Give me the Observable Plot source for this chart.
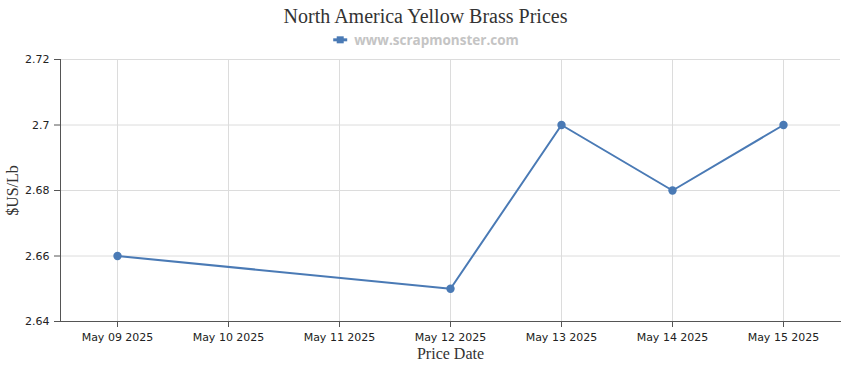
<!DOCTYPE html>
<html>
<head>
<meta charset="utf-8">
<script src="https://cdn.jsdelivr.net/npm/d3@7"></script>
<script src="https://cdn.jsdelivr.net/npm/@observablehq/plot@0.6"></script>
<style>
  html, body { margin: 0; padding: 0; background: #fff; }
  #chart svg { display: block; }
</style>
</head>
<body>
<div id="chart"></div>
<script>
const dates = ["May 09 2025", "May 10 2025", "May 11 2025", "May 12 2025", "May 13 2025", "May 14 2025", "May 15 2025"];
const priceDates = ["May 09 2025", "May 12 2025", "May 13 2025", "May 14 2025", "May 15 2025"];
const prices = [2.66, 2.65, 2.70, 2.68, 2.70];
const yTicks = [2.64, 2.66, 2.68, 2.70, 2.72];
const titleText = "North America Yellow Brass Prices";
const legendText = "www.scrapmonster.com";

const data = priceDates.map((d, i) => ({date: d, price: prices[i]}));
const lineColor = "#4a7ab5";

const chart = Plot.plot({
  width: 850,
  height: 370,
  marginLeft: 60,
  marginRight: 10,
  marginTop: 59,
  marginBottom: 49,
  style: {fontFamily: "'DejaVu Sans', sans-serif", fontSize: "11px", color: "#222", background: "#fff"},
  x: {type: "point", domain: dates, padding: 0.5, label: null},
  y: {domain: [2.64, 2.72], label: null},
  marks: [
    Plot.gridX(dates, {stroke: "#dcdcdc", strokeOpacity: 1}),
    Plot.gridY(yTicks, {stroke: "#dcdcdc", strokeOpacity: 1}),
    Plot.axisX(dates, {tickSize: 6, tickPadding: 6, stroke: "#555", fill: "#222", fontSize: 11}),
    Plot.axisY(yTicks, {tickSize: 6, tickPadding: 5, stroke: "#555", fill: "#222", fontSize: 11, tickFormat: d => String(+d.toFixed(2))}),
    Plot.frame({anchor: "bottom", stroke: "#555"}),
    Plot.frame({anchor: "left", stroke: "#555"}),
    Plot.line(data, {x: "date", y: "price", stroke: lineColor, strokeWidth: 2}),
    Plot.dot(data, {x: "date", y: "price", fill: lineColor, r: 4.2}),
    // title
    Plot.text([titleText], {frameAnchor: "top", lineAnchor: "middle", dy: -43, dx: -25, text: d => d, fontFamily: "'Liberation Serif', serif", fontSize: 20, fill: "#333"}),
    // legend
    Plot.text([legendText], {frameAnchor: "top", lineAnchor: "middle", dy: -19, dx: -14, text: d => d, fontFamily: "'Open Sans', sans-serif", fontWeight: "bold", fontSize: 13.5, fill: "#c4c4c4"}),
    // axis titles
    Plot.text(["Price Date"], {frameAnchor: "bottom", lineAnchor: "middle", dy: 32, text: d => d, fontFamily: "'Liberation Serif', serif", fontSize: 16, fill: "#333"}),
    Plot.text(["$US/Lb"], {frameAnchor: "left", textAnchor: "middle", lineAnchor: "middle", dx: -48, rotate: -90, text: d => d, fontFamily: "'Liberation Serif', serif", fontSize: 16, fill: "#333"})
  ]
});

document.getElementById("chart").appendChild(chart);

// legend icon: line with square marker, positioned next to legend text
const svg = d3.select(chart);
const legendNode = svg.selectAll("text").filter(function() { return this.textContent === legendText; }).node();
if (legendNode) {
  const bb = legendNode.getBBox();
  const ctm = legendNode.getCTM();
  const bx = bb.x + (ctm ? ctm.e : 0);
  const cy = bb.y + bb.height / 2 + (ctm ? ctm.f : 0);
  const x1 = bx - 21, x2 = bx - 7;
  const g = svg.append("g");
  g.append("line").attr("x1", x1).attr("x2", x2).attr("y1", cy).attr("y2", cy).attr("stroke", lineColor).attr("stroke-width", 3);
  g.append("rect").attr("x", (x1 + x2) / 2 - 3.5).attr("y", cy - 3.5).attr("width", 7).attr("height", 7).attr("fill", lineColor);
}
</script>
</body>
</html>
